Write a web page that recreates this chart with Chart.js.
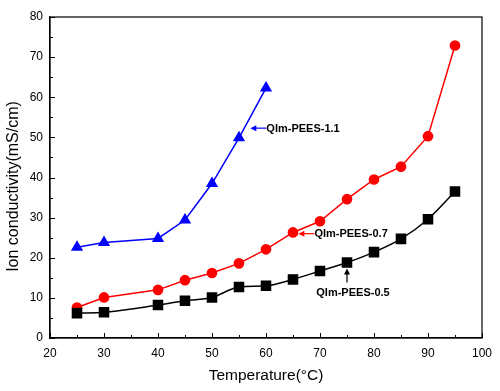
<!DOCTYPE html>
<html>
<head>
<meta charset="utf-8">
<script src="https://cdn.jsdelivr.net/npm/chart.js@4/dist/chart.umd.min.js"></script>
<style>
html,body{margin:0;padding:0;background:#fff;}
#wrap{width:500px;height:391px;}
</style>
</head>
<body>
<div id="wrap"><canvas id="c" width="500" height="391"></canvas></div>
<script>
const temps05 = [25,30,40,45,50,55,60,65,70,75,80,85,90,95];
const vals05  = [6.2,6.4,8.2,9.3,10.1,12.7,13.0,14.6,16.7,18.8,21.4,24.7,29.6,36.5];
const temps07 = [25,30,40,45,50,55,60,65,70,75,80,85,90,95];
const vals07  = [7.6,10.1,12.0,14.4,16.2,18.6,22.1,26.3,29.1,34.6,39.5,42.7,50.3,72.9];
const temps11 = [25,30,40,45,50,55,60];
const vals11  = [22.6,23.8,24.8,29.4,38.5,49.9,62.3];
const xTicks = [20,30,40,50,60,70,80,90,100];
const yTicks = [0,10,20,30,40,50,60,70,80];
const labels = ['QIm-PEES-0.5','QIm-PEES-0.7','QIm-PEES-1.1'];
const yTitle = 'Ion conductivity(mS/cm)';
const xTitle = 'Temperature(°C)';

const FONT = "'Liberation Sans', Arial, sans-serif";
const pts = (xs, ys) => xs.map((x, i) => ({x: x, y: ys[i]}));

// annotation anchors in data units
const notes = [
  {text: labels[2], color: '#0000ff', at: {x: 57.1, y: 52.3}, dir: 'left'},
  {text: labels[1], color: '#ff0000', at: {x: 66.0, y: 26.0}, dir: 'left'},
  {text: labels[0], color: '#000000', at: {x: 75, y: 17.3}, dir: 'up'}
];

function arrowHead(ctx, x, y, dx, dy, color) {
  const L = 6, W = 3;
  ctx.fillStyle = color;
  ctx.beginPath();
  ctx.moveTo(x, y);
  ctx.lineTo(x - dx * L - dy * W, y - dy * L + dx * W);
  ctx.lineTo(x - dx * L + dy * W, y - dy * L - dx * W);
  ctx.closePath();
  ctx.fill();
}

const framePlugin = {
  id: 'frame',
  afterDraw(chart) {
    const ctx = chart.ctx;
    const a = chart.chartArea;
    const xs = chart.scales.x, ys = chart.scales.y;
    ctx.save();
    ctx.strokeStyle = '#000';
    ctx.lineWidth = 1.2;
    ctx.strokeRect(a.left, a.top, a.right - a.left, a.bottom - a.top);
    ctx.lineWidth = 1;
    ctx.beginPath();
    for (let v = xs.min; v <= xs.max; v += 5) {
      const p = Math.round(xs.getPixelForValue(v)) + 0.5;
      const len = (v % 10 === 0) ? 5 : 3;
      ctx.moveTo(p, a.bottom);
      ctx.lineTo(p, a.bottom - len);
    }
    for (let v = ys.min; v <= ys.max; v += 5) {
      const p = Math.round(ys.getPixelForValue(v)) + 0.5;
      const len = (v % 10 === 0) ? 5 : 3;
      ctx.moveTo(a.left, p);
      ctx.lineTo(a.left + len, p);
    }
    ctx.stroke();

    // y axis title
    ctx.save();
    ctx.translate(14, (a.top + a.bottom) / 2 + 9);
    ctx.rotate(-Math.PI / 2);
    ctx.font = '16px ' + FONT;
    ctx.fillStyle = '#000';
    ctx.textAlign = 'center';
    ctx.textBaseline = 'middle';
    ctx.fillText(yTitle, 0, 0);
    ctx.restore();

    // annotations
    ctx.font = 'bold 11px ' + FONT;
    ctx.lineWidth = 1.2;
    notes.forEach(n => {
      const px = xs.getPixelForValue(n.at.x), py = ys.getPixelForValue(n.at.y);
      ctx.strokeStyle = n.color;
      if (n.dir === 'left') {
        const tail = px + 16;
        ctx.beginPath();
        ctx.moveTo(tail, py);
        ctx.lineTo(px + 4, py);
        ctx.stroke();
        arrowHead(ctx, px, py, -1, 0, n.color);
        ctx.fillStyle = '#000';
        ctx.textAlign = 'left';
        ctx.textBaseline = 'middle';
        ctx.fillText(n.text, tail, py + 0.5);
      } else {
        const tail = py + 14;
        ctx.strokeStyle = '#000';
        ctx.beginPath();
        ctx.moveTo(px, tail);
        ctx.lineTo(px, py + 4);
        ctx.stroke();
        arrowHead(ctx, px, py, 0, -1, '#000');
        ctx.fillStyle = '#000';
        ctx.textAlign = 'center';
        ctx.textBaseline = 'middle';
        ctx.fillText(n.text, px + 6, tail + 10);
      }
    });
    ctx.restore();
  }
};

new Chart(document.getElementById('c'), {
  type: 'line',
  data: {
    datasets: [
      {label: labels[0], data: pts(temps05, vals05), borderColor: '#000', backgroundColor: '#000',
       pointStyle: 'rect', pointRadius: 6.4, borderWidth: 1.5, cubicInterpolationMode: 'monotone'},
      {label: labels[1], data: pts(temps07, vals07), borderColor: '#ff0000', backgroundColor: '#ff0000',
       pointStyle: 'circle', pointRadius: 4.6, borderWidth: 1.5},
      {label: labels[2], data: pts(temps11, vals11), borderColor: '#0000ff', backgroundColor: '#0000ff',
       pointStyle: 'triangle', pointRadius: 5.6, borderWidth: 1.5}
    ]
  },
  options: {
    responsive: false,
    animation: false,
    devicePixelRatio: 1,
    layout: {padding: {top: 17, right: 14, left: 0, bottom: 0}},
    plugins: {legend: {display: false}, tooltip: {enabled: false}},
    elements: {point: {borderWidth: 0}},
    scales: {
      x: {
        type: 'linear', min: 20, max: 100,
        afterBuildTicks: s => { s.ticks = xTicks.map(v => ({value: v})); },
        afterFit: s => { s.height = 53; },
        grid: {display: false, drawTicks: false},
        border: {display: true, color: '#000', width: 1.2},
        ticks: {color: '#000', padding: 8, font: {family: FONT, size: 12}, maxRotation: 0},
        title: {display: true, text: xTitle, color: '#000',
                font: {family: FONT, size: 15.5}, padding: {top: 6, bottom: 6}}
      },
      y: {
        min: 0, max: 80,
        afterBuildTicks: s => { s.ticks = yTicks.map(v => ({value: v})); },
        afterFit: s => { s.width = 50; },
        grid: {display: false, drawTicks: false},
        border: {display: true, color: '#000', width: 1.2},
        ticks: {color: '#000', padding: 7, font: {family: FONT, size: 12}},
        title: {display: false}
      }
    }
  },
  plugins: [framePlugin]
});
</script>
</body>
</html>
